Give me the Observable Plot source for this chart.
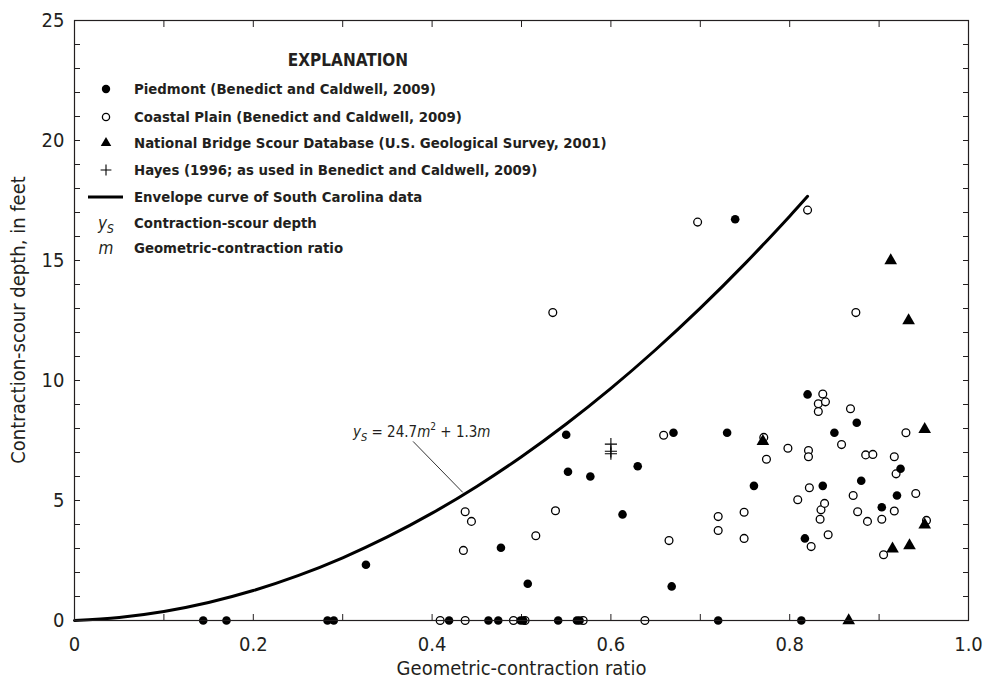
<!DOCTYPE html>
<html><head><meta charset="utf-8">
<script src="https://cdn.jsdelivr.net/npm/d3@7"></script>
<script src="https://cdn.jsdelivr.net/npm/@observablehq/plot@0.6"></script>
<style>
body{margin:0;background:#fff;}
#chart{width:983px;height:683px;}
</style></head><body><div id="chart"></div>
<script>
const FONT = '"Liberation Sans Narrow","Arial Narrow","DejaVu Sans Condensed",sans-serif';

// ---- data ----
const piedmontX = [0.144,0.170,0.283,0.290,0.419,0.463,0.474,0.499,0.502,0.541,0.562,0.565,0.720,0.813,
  0.326,0.477,0.507,0.550,0.552,0.577,0.613,0.630,0.670,0.668,0.730,0.739,0.760,0.817,0.820,0.837,0.850,0.875,0.880,0.903,0.920,0.924];
const piedmontY = [0,0,0,0,0,0,0,0,0,0,0,0,0,0,
  2.32,3.03,1.53,7.74,6.2,6.0,4.42,6.43,7.82,1.42,7.82,16.72,5.61,3.42,9.42,5.61,7.82,8.24,5.82,4.72,5.21,6.32];

const coastalX = [0.409,0.437,0.491,0.504,0.569,0.638,
  0.435,0.437,0.444,0.516,0.535,0.538,0.659,0.665,0.697,0.720,0.720,0.749,0.749,0.771,0.774,0.798,0.809,0.820,
  0.821,0.821,0.822,0.824,0.832,0.832,0.834,0.835,0.837,0.839,0.840,0.843,0.858,0.868,0.871,0.874,0.876,0.885,
  0.887,0.893,0.903,0.905,0.917,0.917,0.919,0.930,0.941,0.953];
const coastalY = [0,0,0,0,0,0,
  2.92,4.53,4.13,3.53,12.83,4.57,7.72,3.33,16.6,4.33,3.75,4.51,3.42,7.63,6.72,7.18,5.03,17.1,
  7.08,6.82,5.53,3.08,9.03,8.71,4.22,4.61,9.44,4.88,9.11,3.57,7.33,8.82,5.21,12.83,4.53,6.9,
  4.13,6.92,4.22,2.74,6.82,4.56,6.11,7.82,5.29,4.17];

const nbsdX = [0.770,0.866,0.913,0.915,0.933,0.934,0.951,0.951];
const nbsdY = [7.47,0,15.0,2.99,12.5,3.12,7.97,3.99];

const hayesX = [0.600,0.600,0.600];
const hayesY = [7.35,7.05,6.95];

// envelope curve ys = 24.7m^2 + 1.3m
const envM = [0,0.05,0.1,0.15,0.2,0.25,0.3,0.35,0.4,0.45,0.5,0.55,0.6,0.65,0.7,0.75,0.8,0.82];
const envY = [0,0.127,0.377,0.751,1.248,1.869,2.613,3.481,4.472,5.587,6.825,8.187,9.672,11.281,13.013,14.869,16.848,17.674];

// annotation (equation label and leader line)
const eqX = [0.312], eqY = [7.62];
const leaderX = [0.379,0.434], leaderY = [7.45,5.35];

// ticks
const xMinor = [0,0.1,0.2,0.3,0.4,0.5,0.6,0.7,0.8,0.9,1.0];
const xLabeled = [0,0.2,0.4,0.6,0.8,1.0];
const xLabels = ["0","0.2","0.4","0.6","0.8","1.0"];
const yMinor = d3.range(0,26,1);
const yLabeled = [0,5,10,15,20,25];
const yLabels = ["0","5","10","15","20","25"];

const xTitle = "Geometric-contraction ratio";
const yTitle = "Contraction-scour depth, in feet";

const legendTitle = "EXPLANATION";
const legendItems = [
  "Piedmont (Benedict and Caldwell, 2009)",
  "Coastal Plain (Benedict and Caldwell, 2009)",
  "National Bridge Scour Database (U.S. Geological Survey, 2001)",
  "Hayes (1996; as used in Benedict and Caldwell, 2009)",
  "Envelope curve of South Carolina data",
  "Contraction-scour depth",
  "Geometric-contraction ratio"
];

const INK = "#231f20";
const pts = (xs, ys) => xs.map((x,i)=>({x, y: ys[i]}));

const plot = Plot.plot({
  width: 983, height: 683,
  marginLeft: 74, marginRight: 15, marginTop: 20, marginBottom: 63,
  style: {fontFamily: FONT, fontSize: "20px", color: INK, background: "#fff"},
  x: {domain: [0,1]},
  y: {domain: [0,25]},
  marks: [
    Plot.axisX(xMinor, {anchor:"bottom", tickSize:-6, tickFormat:()=>"", stroke:INK, label:null}),
    Plot.axisX(xMinor, {anchor:"top", tickSize:-6, tickFormat:()=>"", stroke:INK, label:null}),
    Plot.axisY(yMinor, {anchor:"left", tickSize:-6, tickFormat:()=>"", stroke:INK, label:null}),
    Plot.axisY(yMinor, {anchor:"right", tickSize:-6, tickFormat:()=>"", stroke:INK, label:null}),
    Plot.axisX(xLabeled, {anchor:"bottom", tickSize:0, tickPadding:16, tickFormat:(d,i)=>xLabels[i], fontSize:20, fill:INK, label:null}),
    Plot.axisY(yLabeled, {anchor:"left", tickSize:0, tickPadding:10, tickFormat:(d,i)=>yLabels[i], fontSize:20, fill:INK, label:null}),
    Plot.text([xTitle], {frameAnchor:"bottom", dy:54, text:d=>d, fontSize:20, fill:INK}),
    Plot.line(pts(envM, envY), {x:"x", y:"y", stroke:"#000", strokeWidth:3, curve:"catmull-rom"}),
    Plot.line(pts(leaderX, leaderY), {x:"x", y:"y", stroke:"#000", strokeWidth:0.8}),
    Plot.dot(pts(coastalX, coastalY), {x:"x", y:"y", r:3.9, stroke:"#000", strokeWidth:1.3, fill:"#fff"}),
    Plot.dot(pts(piedmontX, piedmontY), {x:"x", y:"y", r:4.3, fill:"#000", stroke:"none"}),
    Plot.dot(pts(nbsdX, nbsdY), {x:"x", y:"y", r:4.7, symbol:"triangle", fill:"#000", stroke:"none"}),
    Plot.dot(pts(hayesX, hayesY), {x:"x", y:"y", r:4, symbol:"plus", stroke:"#000", strokeWidth:1.1}),
    Plot.frame({stroke: INK, strokeWidth: 1.2})
  ]
});
document.getElementById("chart").appendChild(plot);

const sx = plot.scale("x"), sy = plot.scale("y");
const svg = d3.select(plot.tagName.toLowerCase()==="svg" ? plot : plot.querySelector("svg"));

// --- y-axis title ---
svg.append("text")
  .attr("transform", `translate(18,${(sy.apply(0)+sy.apply(25))/2}) rotate(-90)`)
  .attr("text-anchor","middle").attr("dy","0.35em")
  .attr("font-family", FONT).attr("font-size", 20).attr("fill", INK).text(yTitle);

// --- equation label, positioned through the plot scales ---
const eq = svg.append("text")
  .attr("x", sx.apply(eqX[0])).attr("y", sy.apply(eqY[0]))
  .attr("text-anchor","start")
  .attr("font-family", FONT).attr("font-size", 15).attr("fill", INK);
eq.append("tspan").attr("font-style","italic").text("y");
eq.append("tspan").attr("font-style","italic").attr("font-size",11).attr("dy",4).text("S");
eq.append("tspan").attr("dy",-4).text(" = 24.7");
eq.append("tspan").attr("font-style","italic").text("m");
eq.append("tspan").attr("font-size",10).attr("dy",-7).text("2");
eq.append("tspan").attr("dy",7).text(" + 1.3");
eq.append("tspan").attr("font-style","italic").text("m");

// --- legend (EXPLANATION) ---
const lg = svg.append("g").attr("font-family", FONT).attr("fill", INK);
lg.append("text").attr("x",348).attr("y",60).attr("dy","0.35em").attr("text-anchor","middle")
  .attr("font-weight","bold").attr("font-size",17).text(legendTitle);
const rowY = [89,117,143,170,197,223,248];
const symX = 106, txtX = 134;
legendItems.forEach((t,i)=>{
  lg.append("text").attr("x",txtX).attr("y",rowY[i]).attr("dy","0.35em").attr("text-anchor","start")
    .attr("font-weight","bold").attr("font-size",14.8).text(t);
});
lg.append("circle").attr("cx",symX).attr("cy",rowY[0]).attr("r",4.2).attr("fill","#000");
lg.append("circle").attr("cx",symX).attr("cy",rowY[1]).attr("r",3.6).attr("fill","#fff").attr("stroke","#000").attr("stroke-width",1.3);
lg.append("path").attr("transform",`translate(${symX},${rowY[2]})`).attr("d", d3.symbol(d3.symbolTriangle, 48)()).attr("fill","#000");
lg.append("path").attr("transform",`translate(${symX},${rowY[3]})`).attr("d", d3.symbol(d3.symbolPlus, 40)()).attr("fill","none").attr("stroke","#000").attr("stroke-width",1.1);
lg.append("line").attr("x1",88).attr("x2",123).attr("y1",rowY[4]).attr("y2",rowY[4]).attr("stroke","#000").attr("stroke-width",3);
const ys = lg.append("text").attr("x",symX).attr("y",rowY[5]).attr("dy","0.35em").attr("text-anchor","middle").attr("font-size",17);
ys.append("tspan").attr("font-style","italic").text("y");
ys.append("tspan").attr("font-style","italic").attr("font-size",12).attr("dy",4).text("S");
lg.append("text").attr("x",symX).attr("y",rowY[6]).attr("dy","0.35em").attr("text-anchor","middle")
  .attr("font-size",17).attr("font-style","italic").text("m");
</script></body></html>
